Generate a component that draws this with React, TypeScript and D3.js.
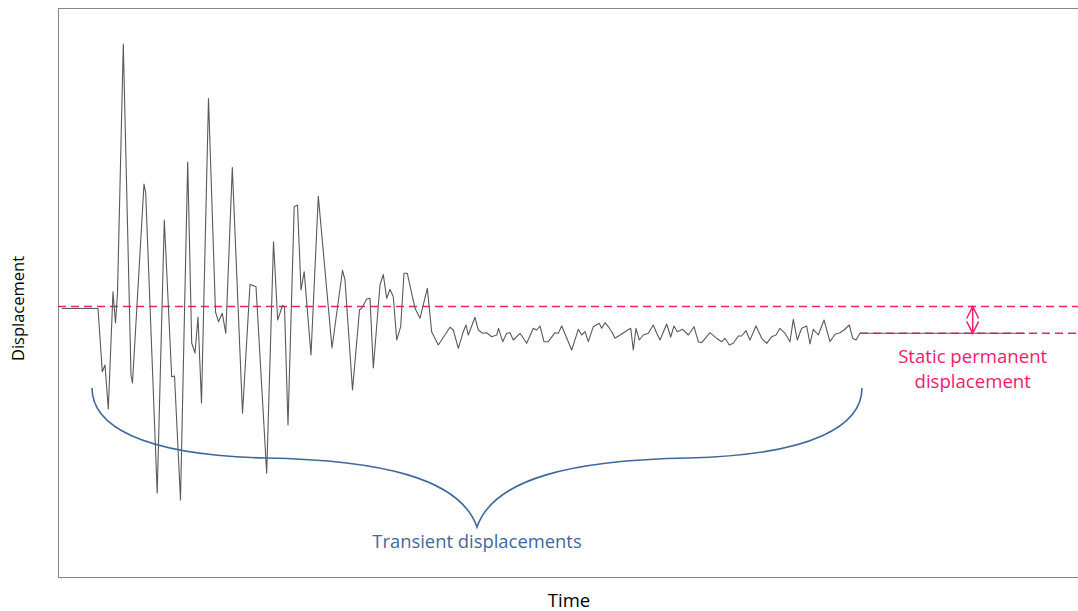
import React from "react";
import * as d3 from "d3";

// Ground displacement record: time (s) and displacement (mm)
const timeValues = [
  0.4, 4.0, 4.43, 4.7, 5.03, 5.5, 5.75, 5.95, 6.53, 7.3, 7.45, 8.6, 8.77, 9.92, 10.63, 11.37, 11.65,
  12.25, 12.97, 13.37, 13.7, 14.0, 14.35, 15.05, 15.75, 16.05, 16.43, 16.78, 17.43, 18.45, 19.2, 19.8,
  20.87, 21.55, 21.97, 22.45, 22.65, 23.0, 23.62, 23.95, 24.3, 24.62, 25.3, 26.03, 27.4, 28.45, 28.7,
  29.45, 30.15, 30.43, 30.87, 31.2, 31.53, 32.2, 32.53, 32.87, 33.2, 33.53, 33.87, 34.27, 34.6, 34.93,
  35.7, 36.2, 36.93, 37.37, 38.03, 39.2, 39.53, 40.03, 40.53, 40.8, 41.03, 41.7, 42.03, 42.47, 42.87,
  43.37, 43.87, 44.05, 44.47, 44.87, 45.2, 45.53, 46.2, 46.87, 47.53, 47.87, 48.2, 48.6, 49.03, 49.7,
  50.03, 50.37, 51.37, 52.03, 52.37, 52.7, 53.03, 53.53, 54.13, 54.37, 54.7, 55.03, 55.37, 55.7, 56.2,
  56.87, 57.27, 57.53, 57.8, 58.13, 58.53, 59.03, 59.53, 59.87, 60.2, 60.87, 61.27, 61.6, 61.93, 62.47,
  63.03, 63.6, 64.03, 64.37, 65.2, 65.87, 66.37, 66.7, 67.13, 67.53, 68.03, 68.37, 68.8, 69.2, 69.8,
  70.37, 70.87, 71.37, 71.8, 72.2, 72.7, 73.2, 73.53, 73.93, 74.37, 74.87, 75.2, 75.53, 76.03, 76.6,
  77.2, 77.7, 78.2, 78.6, 79.13, 79.47, 79.8, 80.2, 96.7,
];

const displacementValues = [
  0.1, 0.1, -6.22, -5.55, -9.95, 1.78, -1.35, 1.65, 26.55, -6.55, -7.35, 12.55, 11.65, -18.35, 8.95, -6.72, -6.65,
  -19.05, 14.75, -3.35, -4.35, -0.75, -9.35, 21.1, -0.25, -1.22, -0.38, -2.38, 14.2, -10.38, 2.5, 2.28,
  -16.38, 6.78, -1.05, 0.4, 0.25, -11.55, 10.28, 10.45, 1.95, 3.78, -4.55, 11.32, -3.85, 3.92, 2.95,
  -8.05, -0.05, 0.22, 1.05, 1.12, -5.85, 2.45, 3.5, 1.12, 2.02, 1.28, -3.05, -1.72, 3.62, 3.62,
  0.12, -0.88, 2.12, -2.25, -3.55, -1.78, -2.05, -3.88, -2.22, -1.55, -2.55, -0.78, -2.05, -2.38, -2.32,
  -2.72, -2.55, -1.88, -3.22, -2.38, -2.32, -3.05, -2.38, -3.38, -1.88, -2.05, -1.65, -3.22, -3.22, -2.32,
  -2.38, -1.65, -4.05, -1.98, -2.55, -2.22, -3.22, -1.72, -1.38, -1.88, -1.32, -1.72, -2.22, -2.88, -2.55,
  -2.12, -1.88, -4.05, -1.88, -3.05, -2.55, -2.38, -1.55, -2.38, -3.05, -1.45, -2.75, -1.65, -2.22, -1.98,
  -2.55, -1.72, -3.22, -3.32, -2.32, -2.88, -3.22, -2.88, -3.55, -3.38, -2.65, -2.65, -2.12, -3.05, -1.65,
  -2.88, -3.38, -2.72, -2.55, -1.88, -2.38, -3.22, -0.98, -3.05, -1.88, -1.65, -3.45, -1.98, -2.55, -1.05,
  -3.22, -2.48, -2.32, -2.05, -1.55, -2.88, -3.05, -2.38, -2.38,
];

// Reference levels before and after shaking
const initialLevel = 0.3;
const finalLevel = -2.38;
const offsetStart = 80.2; // where the residual level line begins
const offsetMarkerTime = 91.47; // time of the double arrow

// Extent of the brace over the shaking phase
const braceStart = 3.4;
const braceEnd = 80.4;
const braceTop = -7.85;
const braceMid = -14.85;
const braceTip = -21.75;

const xDomain = [0, 102];
const yDomain = [-26.75, 30.15];

const axisTitles = { x: "Time", y: "Displacement" };
const braceLabel = "Transient displacements";
const offsetLabel = ["Static permanent", "displacement"];

const W = 1078;
const H = 611;
const plot = { left: 58, top: 8, right: 1078, bottom: 577 };

const PINK = "#F0206E";
const BLUE = "#41689B";
const FONT = "'Open Sans', 'Noto Sans', sans-serif";

export default function App() {
  const x = d3.scaleLinear().domain(xDomain).range([plot.left, plot.right]);
  const y = d3.scaleLinear().domain(yDomain).range([plot.bottom, plot.top]);

  const series = timeValues.map((t, i) => [t, displacementValues[i]] as [number, number]);
  const line = d3
    .line<[number, number]>()
    .x((d) => x(d[0]))
    .y((d) => y(d[1]));

  // Curly brace spanning the transient phase
  const bL = x(braceStart);
  const bR = x(braceEnd);
  const bC = (bL + bR) / 2;
  const yTop = y(braceTop);
  const yMid = y(braceMid);
  const yTip = y(braceTip);
  const q1 = bL + (bC - bL) * 0.45;
  const q2 = bR - (bR - bC) * 0.45;
  const path = d3.path();
  path.moveTo(bL, yTop);
  path.bezierCurveTo(bL, yTop + 37, bL + 48, yMid - 3, q1, yMid);
  path.bezierCurveTo(q1 + 115, yMid + 2, bC - 17, yMid + 20, bC, yTip);
  path.bezierCurveTo(bC + 17, yMid + 20, q2 - 115, yMid + 2, q2, yMid);
  path.bezierCurveTo(bR - 48, yMid - 3, bR, yTop + 37, bR, yTop);

  // Double-headed arrow showing the permanent offset
  const ax = x(offsetMarkerTime);
  const a1 = y(initialLevel);
  const a2 = y(finalLevel);
  const arrow = d3.path();
  arrow.moveTo(ax, a1);
  arrow.lineTo(ax, a2);
  arrow.moveTo(ax - 6, a1 + 12);
  arrow.lineTo(ax, a1);
  arrow.lineTo(ax + 6, a1 + 12);
  arrow.moveTo(ax - 6, a2 - 12);
  arrow.lineTo(ax, a2);
  arrow.lineTo(ax + 6, a2 - 12);

  return (
    <svg
      width={W}
      height={H}
      style={{ position: "absolute", left: 0, top: 0, background: "#fff" }}
      fontFamily={FONT}
    >
      <rect
        x={plot.left + 0.5}
        y={plot.top + 0.5}
        width={plot.right - plot.left + 5}
        height={plot.bottom - plot.top}
        fill="none"
        stroke="#858585"
        strokeWidth={1}
      />

      <line
        x1={x(xDomain[0])}
        x2={x(xDomain[1])}
        y1={y(initialLevel)}
        y2={y(initialLevel)}
        stroke={PINK}
        strokeWidth={1.5}
        strokeDasharray="8,5"
      />
      <line
        x1={x(offsetStart)}
        x2={x(xDomain[1])}
        y1={y(finalLevel)}
        y2={y(finalLevel)}
        stroke={PINK}
        strokeWidth={1.5}
        strokeDasharray="8,5"
      />

      <path d={line(series) ?? ""} fill="none" stroke="#5a5a5a" strokeWidth={1.1} strokeLinejoin="round" />

      <path d={arrow.toString()} fill="none" stroke={PINK} strokeWidth={1.5} />
      <text x={ax} y={363} textAnchor="middle" fontSize={18.6} fill={PINK}>
        {offsetLabel[0]}
      </text>
      <text x={ax} y={388} textAnchor="middle" fontSize={18.6} fill={PINK}>
        {offsetLabel[1]}
      </text>

      <path d={path.toString()} fill="none" stroke={BLUE} strokeWidth={1.6} />
      <text x={bC} y={548} textAnchor="middle" fontSize={18.4} fill={BLUE}>
        {braceLabel}
      </text>

      <text x={569} y={607} textAnchor="middle" fontSize={18.5} fill="#000">
        {axisTitles.x}
      </text>
      <text
        transform={`translate(24, ${(plot.top + plot.bottom) / 2 + 16}) rotate(-90)`}
        textAnchor="middle"
        fontSize={16.5}
        fill="#000"
      >
        {axisTitles.y}
      </text>
    </svg>
  );
}
